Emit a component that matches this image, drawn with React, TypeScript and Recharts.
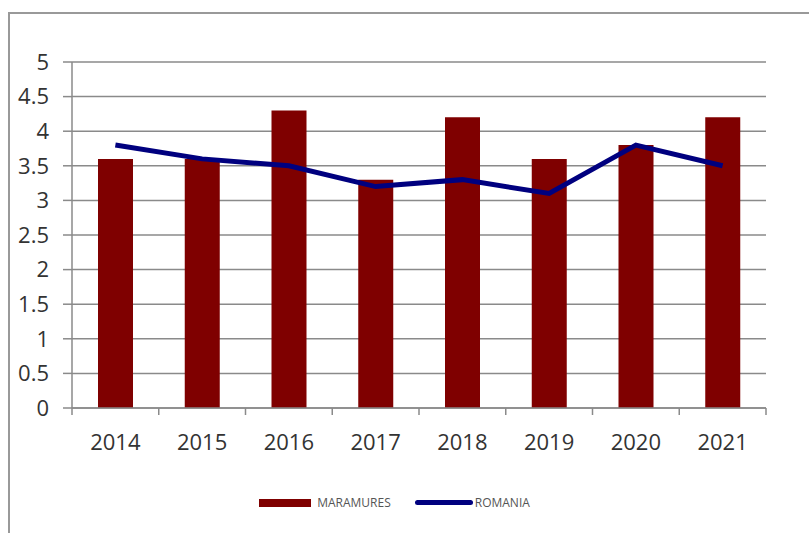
import React from 'react'
import { ComposedChart, Bar, Line, XAxis, YAxis, CartesianGrid } from 'recharts'

const years = ['2014', '2015', '2016', '2017', '2018', '2019', '2020', '2021']
const maramures = [3.6, 3.6, 4.3, 3.3, 4.2, 3.6, 3.8, 4.2]
const romania = [3.8, 3.6, 3.5, 3.2, 3.3, 3.1, 3.8, 3.5]
const yTicks = [0, 0.5, 1, 1.5, 2, 2.5, 3, 3.5, 4, 4.5, 5]

const data = years.map((y, i) => ({ year: y, MARAMURES: maramures[i], ROMANIA: romania[i] }))

const font = '"Open Sans", sans-serif'

// x tick: label in the middle, small tick marks at the category edges
const YearTick = (props: any) => {
  const { x, y, payload, index } = props
  const off = payload.offset || 0
  const last = index === years.length - 1
  return (
    <g>
      <line x1={x - off} x2={x - off} y1={y - 8} y2={y - 1} stroke="#8a8a8a" strokeWidth={1.5} />
      {last && <line x1={x + off} x2={x + off} y1={y - 8} y2={y - 1} stroke="#8a8a8a" strokeWidth={1.5} />}
      <text x={x} y={y + 34} textAnchor="middle" fill="#333" fontSize={22} fontFamily={font}>{payload.value}</text>
    </g>
  )
}

export default function App() {
  return (
    <div style={{ position: 'fixed', left: 0, top: 0, width: 809, height: 533, overflow: 'hidden', background: '#fff' }}>
      <div style={{ position: 'absolute', left: 8, top: 12, width: 830, height: 560, border: '2px solid #999' }} />
      <div style={{ position: 'absolute', left: 0, top: 0 }}>
        <ComposedChart width={809} height={533} data={data} barCategoryGap="30%"
          margin={{ top: 62, right: 43, left: 13, bottom: 85 }}>
          <CartesianGrid vertical={false} stroke="#8a8a8a" strokeWidth={1.5} />
          <XAxis dataKey="year" height={40} stroke="#8a8a8a" strokeWidth={1.5}
            tickLine={false} tick={<YearTick />} interval={0} />
          <YAxis domain={[0, 5]} ticks={yTicks} width={59} stroke="#8a8a8a" strokeWidth={1.5}
            tickSize={9} tick={{ fill: '#333', fontSize: 22, fontFamily: font }} tickMargin={14} />
          <Bar dataKey="MARAMURES" fill="#7f0000" barSize={35} isAnimationActive={false} />
          <Line dataKey="ROMANIA" stroke="#00007f" strokeWidth={5} dot={false} type="linear" isAnimationActive={false} />
        </ComposedChart>
      </div>
      <div style={{ position: 'absolute', left: 0, top: 494, width: 789, display: 'flex', justifyContent: 'center', alignItems: 'center', fontFamily: font, fontSize: 12, color: '#555' }}>
        <div style={{ width: 52, height: 8, background: '#7f0000', marginRight: 6 }} />
        <span style={{ marginRight: 24 }}>MARAMURES</span>
        <div style={{ width: 58, height: 5, borderRadius: 3, background: '#00007f', marginRight: 2 }} />
        <span>ROMANIA</span>
      </div>
    </div>
  )
}
